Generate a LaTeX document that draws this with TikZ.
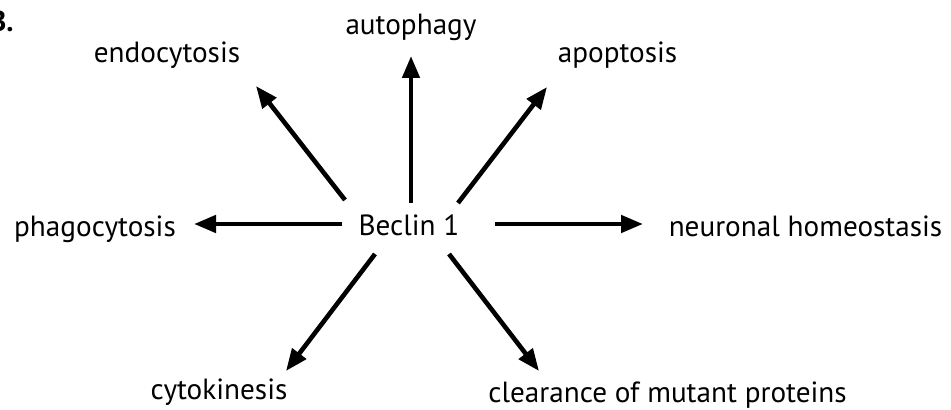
\documentclass[tikz,border=0pt]{standalone}
\usepackage{fontspec}
\setmainfont{PT Sans}
\usetikzlibrary{arrows.meta,positioning}

\tikzset{
  term/.style={anchor=base,inner sep=0pt,font=\fontsize{14.6}{16}\selectfont},
  arr/.style={line width=2.3pt,-{Triangle[length=11pt,width=8.5pt]}}
}

\begin{document}
\begin{tikzpicture}[x=0.5pt,y=-0.5pt]
		
		\useasboundingbox (0,0) rectangle (951,410);
		
		% panel letter
		\node[term,anchor=base east,font=\fontsize{14.6}{16}\bfseries] (panel) at (14,32) {B.};
		
		\node[term] (beclin) at (409,236) {Beclin 1};
		
		\node[term] (auto) at (411,35) {autophagy};
		\node[term] (endo) at (167,63) {endocytosis};
		\node[term] (apop) at (617.5,63) {apoptosis};
		\node[term] (phago) at (95,237) {phagocytosis};
		\node[term] (neuro) at (805.5,237) {neuronal homeostasis};
		\node[term] (cyto) at (219,400) {cytokinesis};
		\node[term] (clear) at (667.5,402) {clearance of mutant proteins};
		
		\draw[arr] ([shift={(2,-33)}]beclin.base) -- ([shift={(0,21)}]auto.base);
		\draw[arr] ([shift={(49,-33)}]beclin.base) -- ([shift={(-70.5,24)}]apop.base);
		\draw[arr] ([shift={(-64,-36)}]beclin.base) -- ([shift={(89,23)}]endo.base);
		\draw[arr] ([shift={(-67,-12)}]beclin.base) -- ([shift={(99,-13)}]phago.base);
		\draw[arr] ([shift={(86,-12)}]beclin.base) -- ([shift={(-162.5,-13)}]neuro.base);
		\draw[arr] ([shift={(-34,18)}]beclin.base) -- ([shift={(67,-29)}]cyto.base);
		\draw[arr] ([shift={(40,18)}]beclin.base) -- ([shift={(-128.5,-31)}]clear.base);
		
	\end{tikzpicture}
\end{document}
